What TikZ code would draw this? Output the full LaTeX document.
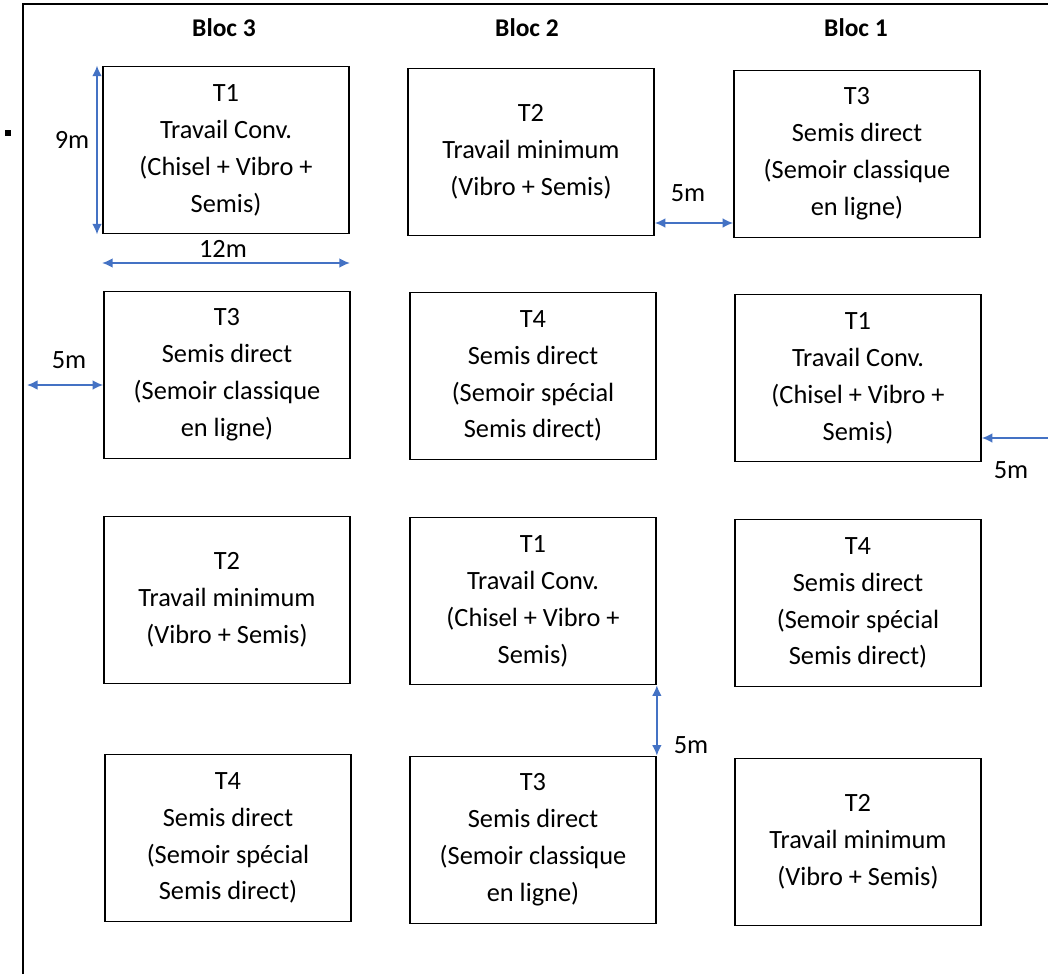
\documentclass[tikz,border=0pt]{standalone}
\usepackage{fontspec}
\setmainfont{Carlito}
\usepackage{xcolor}
\usetikzlibrary{arrows.meta}
\definecolor{bleu}{RGB}{68,114,196}

\tikzset{
    parcelle/.style={draw, line width=1pt, minimum width=4.92cm, minimum height=3.34cm,
        inner sep=0pt, align=center, font=\fontsize{15}{21}\selectfont},
    bloc/.style={font=\fontsize{14.5}{17}\selectfont\bfseries},
    cote/.style={draw=bleu, line width=0.9pt},
    etiq/.style={font=\fontsize{15}{18}\selectfont},
    >={Latex[length=6pt,width=5.5pt]}
}

\begin{document}
\begin{tikzpicture}[x=0.02cm, y=-0.02cm]
    \useasboundingbox (0,0) rectangle (1048,974);
    % frame and small mark
    \draw[line width=1.2pt] (23,974) -- (23,4) -- (1048,4);
    \fill (5,130) rectangle (11,136);

    % block titles
    \node[bloc] (titre3) at (224,28) {Bloc 3};
    \node[bloc] (titre2) at (527,28) {Bloc 2};
    \node[bloc] (titre1) at (856,28) {Bloc 1};

    % Bloc 3
    \node[parcelle] (b3t1) at (226,150) {T1\\Travail Conv.\\(Chisel + Vibro +\\Semis)};
    \node[parcelle] (b3t3) at (227,375) {T3\\Semis direct\\(Semoir classique\\en ligne)};
    \node[parcelle] (b3t2) at (227,600) {T2\\Travail minimum\\(Vibro + Semis)};
    \node[parcelle] (b3t4) at (228,838) {T4\\Semis direct\\(Semoir spécial\\Semis direct)};

    % Bloc 2
    \node[parcelle] (b2t2) at (531,152) {T2\\Travail minimum\\(Vibro + Semis)};
    \node[parcelle] (b2t4) at (533,376) {T4\\Semis direct\\(Semoir spécial\\Semis direct)};
    \node[parcelle] (b2t1) at (533,601) {T1\\Travail Conv.\\(Chisel + Vibro +\\Semis)};
    \node[parcelle] (b2t3) at (533,840) {T3\\Semis direct\\(Semoir classique\\en ligne)};

    % Bloc 1
    \node[parcelle] (b1t3) at (857,154) {T3\\Semis direct\\(Semoir classique\\en ligne)};
    \node[parcelle] (b1t1) at (858,378) {T1\\Travail Conv.\\(Chisel + Vibro +\\Semis)};
    \node[parcelle] (b1t4) at (858,603) {T4\\Semis direct\\(Semoir spécial\\Semis direct)};
    \node[parcelle] (b1t2) at (858,842) {T2\\Travail minimum\\(Vibro + Semis)};

    % dimensions
    \draw[cote, <->] (b3t1.north west -| 97,0) -- (b3t1.south west -| 97,0);
    \node[etiq] (l9m) at (72,140) {9m};
    \draw[cote, <->] (b3t1.south west |- 0,263) -- (b3t1.south east |- 0,263);
    \node[etiq] (l12m) at (223,249) {12m};
    \draw[cote, <->] (b2t2.east |- 0,223) -- (b1t3.west |- 0,223);
    \node[etiq] (l5a) at (688,193) {5m};
    \coordinate (bordG) at (27,385);
    \draw[cote, <->] (bordG) -- (b3t3.west |- bordG);
    \node[etiq] (l5b) at (69,360) {5m};
    \coordinate (bordD) at (1048,438);
    \draw[cote, ->] (bordD) -- (b1t1.east |- bordD);
    \node[etiq] (l5c) at (1011,470) {5m};
    \draw[cote, <->] (b2t1.south east) -- (b2t1.south east |- b2t3.north);
    \node[etiq] (l5d) at (691,745) {5m};
\end{tikzpicture}
\end{document}
